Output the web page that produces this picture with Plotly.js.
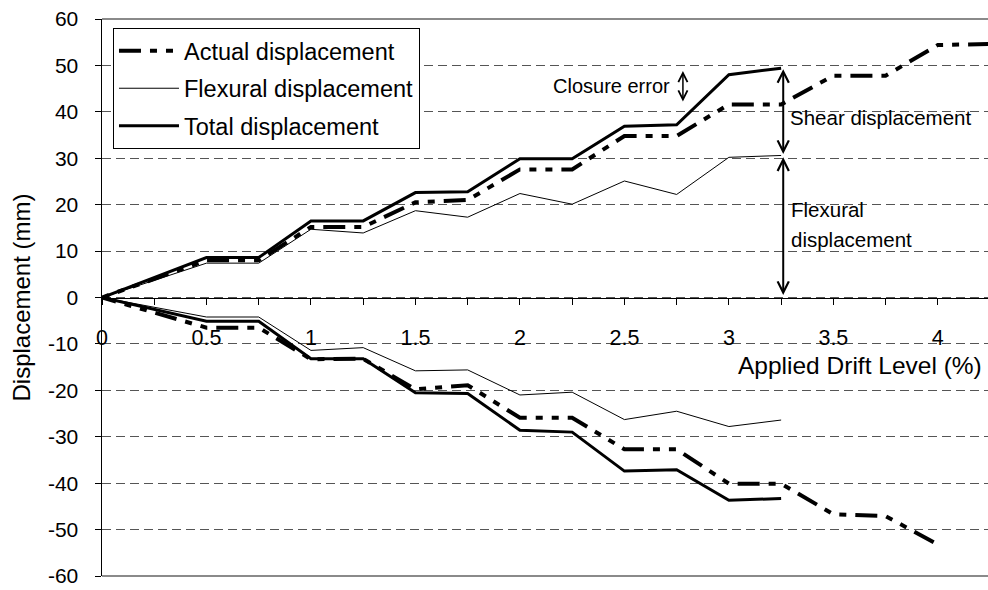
<!DOCTYPE html>
<html>
<head>
<meta charset="utf-8">
<script src="https://cdn.plot.ly/plotly-3.0.1.min.js"></script>
<style>html,body{margin:0;padding:0;background:#fff;}#chart{width:988px;height:590px;}</style>
</head>
<body>
<div id="chart"></div>
<script>
// Applied drift levels (%)
const drift = [0, 0.5, 0.75, 1, 1.25, 1.5, 1.75, 2, 2.25, 2.5, 2.75, 3, 3.25];
const driftActualPos = [0, 0.5, 0.75, 1, 1.25, 1.5, 1.75, 2, 2.25, 2.5, 2.75, 3, 3.25, 3.5, 3.75, 4, 4.25];
const driftActualNeg = [0, 0.5, 0.75, 1, 1.25, 1.5, 1.75, 2, 2.25, 2.5, 2.75, 3, 3.25, 3.5, 3.75, 4];

// Displacements (mm), positive (push) direction
const actualPos = [0, 8.0, 8.0, 15.2, 15.2, 20.5, 21.0, 27.6, 27.6, 34.8, 34.8, 41.6, 41.6, 47.8, 47.8, 54.4, 54.6];
const flexuralPos = [0, 7.4, 7.4, 14.7, 13.9, 18.7, 17.3, 22.4, 20.1, 25.1, 22.2, 30.2, 30.6];
const totalPos = [0, 8.6, 8.6, 16.5, 16.5, 22.6, 22.8, 29.9, 29.9, 36.9, 37.2, 48.0, 49.4];

// Displacements (mm), negative (pull) direction
const actualNeg = [0, -6.5, -6.5, -13.3, -13.2, -19.8, -18.9, -25.9, -25.9, -32.7, -32.7, -40.1, -40.1, -46.7, -47.1, -53.2];
const flexuralNeg = [0, -4.2, -4.2, -11.4, -10.8, -15.8, -15.6, -21.0, -20.4, -26.3, -24.5, -27.8, -26.4];
const totalNeg = [0, -5.1, -5.1, -13.2, -13.2, -20.5, -20.7, -28.6, -29.0, -37.4, -37.1, -43.7, -43.3];

const seriesNames = ['Actual displacement', 'Flexural displacement', 'Total displacement'];
const yTicks = [-60, -50, -40, -30, -20, -10, 0, 10, 20, 30, 40, 50, 60];
const xTicks = [0, 0.5, 1, 1.5, 2, 2.5, 3, 3.5, 4];

// one continuous path per series: positive branch reversed, through origin, then negative branch
function joinBranches(xp, yp, xn, yn) {
  const x = xp.slice().reverse().concat(xn.slice(1));
  const y = yp.slice().reverse().concat(yn.slice(1));
  return {x, y};
}

const A = joinBranches(driftActualPos, actualPos, driftActualNeg, actualNeg);
const F = joinBranches(drift, flexuralPos, drift, flexuralNeg);
const T = joinBranches(drift, totalPos, drift, totalNeg);

const FONT = 'Liberation Sans, Arial, sans-serif';

const traces = [
  {x: A.x, y: A.y, name: seriesNames[0], legendgroup: 'a', mode: 'lines',
   line: {color: '#000', width: 4, dash: '22px,9px,7px,9px,7px,9px'}},
  {x: F.x, y: F.y, name: seriesNames[1], legendgroup: 'b', mode: 'lines',
   line: {color: '#000', width: 1}},
  {x: T.x, y: T.y, name: seriesNames[2], legendgroup: 'c', mode: 'lines',
   line: {color: '#000', width: 3}}
];

function dbl(x, y1, y2, w, s) {
  return {x: x, y: y1, ax: x, ay: y2, xref: 'x', yref: 'y', axref: 'x', ayref: 'y',
    text: '', showarrow: true, arrowside: 'end+start', arrowhead: 5, startarrowhead: 5,
    arrowwidth: w, arrowsize: s, startarrowsize: s, arrowcolor: '#000', standoff: 0, startstandoff: 0};
}

const layout = {
  width: 988, height: 590,
  margin: {l: 102, r: 0, t: 19, b: 14},
  paper_bgcolor: '#fff', plot_bgcolor: '#fff',
  font: {family: FONT, color: '#000', size: 20},
  showlegend: true,
  legend: {x: 0.0124, y: 0.984, xanchor: 'left', yanchor: 'top',
    bgcolor: '#fff', bordercolor: '#000', borderwidth: 1,
    font: {family: FONT, size: 23.5, color: '#000'},
    itemwidth: 60, traceorder: 'grouped', tracegroupgap: 4},
  xaxis: {range: [0, 4.24], anchor: 'free', position: 0.5,
    tickvals: xTicks, ticktext: xTicks.map(String),
    ticks: 'outside', ticklen: 6, tickwidth: 1, tickcolor: '#000',
    minor: {dtick: 0.25, tick0: 0, ticks: 'outside', ticklen: 6, tickwidth: 1, tickcolor: '#000', showgrid: false},
    ticklabelstandoff: 14,
    showline: true, linecolor: '#000', linewidth: 1.5,
    showgrid: false, zeroline: false,
    tickfont: {family: FONT, size: 21.5, color: '#000'}},
  yaxis: {range: [-60, 60], tickvals: yTicks, ticktext: yTicks.map(String),
    ticks: 'outside', ticklen: 6, tickwidth: 1, tickcolor: '#000',
    ticklabelstandoff: 12,
    showline: true, linecolor: '#000', linewidth: 1.5,
    showgrid: true, gridcolor: '#555', gridwidth: 1, griddash: '9px,5px',
    zeroline: false,
    tickfont: {family: FONT, size: 21, color: '#000'},
    title: {text: 'Displacement (mm)', font: {family: FONT, size: 24, color: '#000'}, standoff: 10}},
  shapes: [
    {type: 'line', xref: 'paper', yref: 'paper', x0: 0, x1: 1, y0: 1, y1: 1, line: {color: '#8a8a8a', width: 2}, layer: 'above'},
    {type: 'line', xref: 'paper', yref: 'paper', x0: 0, x1: 1, y0: 0, y1: 0, line: {color: '#8a8a8a', width: 2}, layer: 'above'}
  ],
  annotations: [
    {text: 'Applied Drift Level (%)', xref: 'paper', x: 0.995, xanchor: 'right', yref: 'y', y: -14.6, yanchor: 'middle',
     showarrow: false, font: {family: FONT, size: 24.5, color: '#000'}},
    {text: 'Closure error', xref: 'x', x: 2.73, xanchor: 'right', yref: 'y', y: 45.5, yanchor: 'middle',
     showarrow: false, font: {family: FONT, size: 20, color: '#000'}},
    {text: 'Shear displacement', xref: 'x', x: 3.285, xanchor: 'left', yref: 'y', y: 38.8, yanchor: 'middle',
     showarrow: false, font: {family: FONT, size: 20.5, color: '#000'}},
    {text: 'Flexural', xref: 'x', x: 3.29, xanchor: 'left', yref: 'y', y: 19.0, yanchor: 'middle', align: 'left',
     showarrow: false, font: {family: FONT, size: 20.5, color: '#000'}},
    {text: 'displacement', xref: 'x', x: 3.29, xanchor: 'left', yref: 'y', y: 12.6, yanchor: 'middle', align: 'left',
     showarrow: false, font: {family: FONT, size: 20.5, color: '#000'}},
    dbl(2.78, 48.8, 41.9, 1.5, 1.2),
    dbl(3.26, 49.2, 30.6, 2, 1.1),
    dbl(3.26, 30.2, 0.2, 2, 1.1)
  ]
};

Plotly.newPlot('chart', traces, layout, {displayModeBar: false, staticPlot: true});
</script>
</body>
</html>
